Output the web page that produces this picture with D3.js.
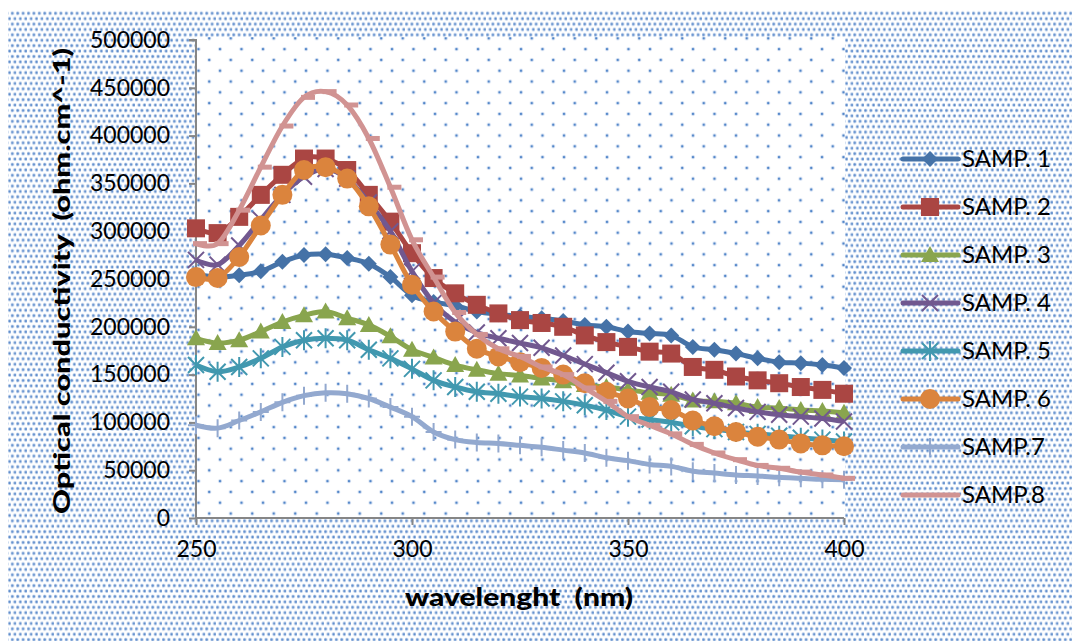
<!DOCTYPE html>
<html>
<head>
<meta charset="utf-8">
<script src="https://cdn.jsdelivr.net/npm/d3@7"></script>
<style>
  body { margin: 0; background: #fff; }
  svg { display: block; }
  text { font-family: Lato, "Noto Sans", sans-serif; white-space: pre; }
</style>
</head>
<body>
<div id="chart"></div>
<script>
// wavelength (nm), one reading every 5 nm
const wavelengths = d3.range(250, 401, 5);

// optical conductivity, one list per sample
const samp1 = [255000, 252000, 254000, 258000, 268000, 275000, 276000, 272000, 266000, 252000, 233000,
  226000, 222000, 216000, 213000, 211000, 209000, 206000, 202000, 200000, 195000,
  193000, 191000, 179000, 176000, 172000, 167000, 163000, 162000, 160000, 157000];
const samp2 = [303000, 298000, 315000, 338000, 359000, 376000, 376000, 364000, 338000, 310000, 277000,
  251000, 235000, 223000, 214000, 207000, 204000, 200000, 191000, 184000, 179000,
  174000, 172000, 158000, 155000, 148000, 144000, 141000, 137000, 134000, 130000];
const samp3 = [188000, 183000, 186000, 195000, 205000, 212000, 216000, 209000, 202000, 190000, 176000,
  168000, 160000, 155000, 151000, 149000, 146000, 143000, 139000, 137000, 134000,
  131000, 129000, 123000, 122000, 120000, 116000, 115000, 113000, 112000, 110000];
const samp4 = [270000, 265000, 285000, 312000, 338000, 357000, 365000, 355000, 330000, 300000, 258000,
  225000, 205000, 194000, 188000, 183000, 178000, 170000, 161000, 152000, 143000,
  137000, 132000, 124000, 120000, 115000, 111000, 108000, 106000, 104000, 101000];
const samp5 = [160000, 153000, 158000, 167000, 179000, 186000, 188000, 186000, 176000, 167000, 156000,
  144000, 137000, 132000, 130000, 127000, 125000, 122000, 118000, 113000, 106000,
  103000, 100000, 96000, 93000, 90000, 88000, 86000, 84000, 82000, 80000];
const samp6 = [252000, 251000, 273000, 306000, 338000, 364000, 367000, 355000, 326000, 286000, 244000,
  216000, 195000, 177000, 169000, 163000, 157000, 150000, 141000, 132000, 125000,
  116000, 113000, 102000, 96000, 90000, 85000, 82000, 78000, 76000, 75000];
const samp7 = [97000, 94000, 102000, 111000, 121000, 128000, 131000, 130000, 125000, 116000, 106000,
  90000, 82000, 79000, 78000, 76000, 74000, 71000, 68000, 63000, 60000,
  56000, 54000, 49000, 47000, 45000, 44000, 42500, 41500, 40500, 40000];
const samp8 = [287000, 287000, 322000, 367000, 410000, 440000, 446000, 432000, 397000, 346000, 291000,
  252000, 215000, 192000, 177000, 169000, 158000, 150000, 136000, 122000, 106000,
  97000, 88000, 77000, 68000, 61000, 55000, 52000, 48000, 45000, 41500];

const seriesNames = ["SAMP. 1", "SAMP. 2", "SAMP. 3", "SAMP. 4", "SAMP. 5", "SAMP. 6", "SAMP.7", "SAMP.8"];
const seriesValues = [samp1, samp2, samp3, samp4, samp5, samp6, samp7, samp8];
const xTicks = [250, 300, 350, 400];
const yTicks = d3.range(0, 500001, 50000);

// styles (colour + marker per series)
const colors = ["#4572A7", "#AA4643", "#89A54E", "#71588F", "#4198AF", "#DB843D", "#93A9CF", "#D19392"];
const markers = ["diamond", "square", "triangle", "cross", "star", "circle", "plus", "dash"];

const W = 1072, H = 641;
const plot = {left: 196, right: 844, top: 40, bottom: 518};

const svg = d3.select("#chart").append("svg")
  .attr("width", W)
  .attr("height", H);

// dotted pattern fills
const defs = svg.append("defs");
const outer = defs.append("pattern")
  .attr("id", "outerDots")
  .attr("patternUnits", "userSpaceOnUse")
  .attr("width", 5.4).attr("height", 10.8);
[[1.5, 2.5], [4.2, 7.9]].forEach(p => {
  outer.append("circle").attr("cx", p[0]).attr("cy", p[1]).attr("r", 2.0).attr("fill", "#c9d9ef");
  outer.append("circle").attr("cx", p[0]).attr("cy", p[1]).attr("r", 1.15).attr("fill", "#5f8dcc");
});
const inner = defs.append("pattern")
  .attr("id", "innerDots")
  .attr("patternUnits", "userSpaceOnUse")
  .attr("x", 0).attr("y", 1)
  .attr("width", 21.5).attr("height", 21.6);
[[5, 5], [15.75, 15.8]].forEach(p => {
  inner.append("circle").attr("cx", p[0]).attr("cy", p[1]).attr("r", 2.1).attr("fill", "#dbe5f4");
  inner.append("circle").attr("cx", p[0]).attr("cy", p[1]).attr("r", 1.2).attr("fill", "#4f84c8");
});

svg.append("rect")
  .attr("x", 8).attr("y", 10)
  .attr("width", W - 8).attr("height", H - 10)
  .attr("fill", "url(#outerDots)");

svg.append("rect")
  .attr("x", plot.left).attr("y", plot.top - 3)
  .attr("width", plot.right - plot.left + 1).attr("height", plot.bottom - plot.top + 3)
  .attr("fill", "#fff");
svg.append("rect")
  .attr("x", plot.left).attr("y", plot.top - 3)
  .attr("width", plot.right - plot.left + 1).attr("height", plot.bottom - plot.top + 3)
  .attr("fill", "url(#innerDots)");

// scales
const x = d3.scaleLinear().domain([250, 400]).range([plot.left, plot.right]);
const y = d3.scaleLinear().domain([0, 500000]).range([plot.bottom, plot.top]);

// axes
const yAxis = svg.append("g")
  .attr("transform", `translate(${plot.left},0)`)
  .call(d3.axisLeft(y).tickValues(yTicks).tickSize(7).tickPadding(19).tickFormat(d3.format("d")));
const xAxis = svg.append("g")
  .attr("transform", `translate(0,${plot.bottom})`)
  .call(d3.axisBottom(x).tickValues(xTicks).tickSize(7).tickPadding(16).tickFormat(d3.format("d")));

[yAxis, xAxis].forEach(a => {
  a.select(".domain").attr("stroke", "#868686").attr("stroke-width", 2);
  a.selectAll(".tick line").attr("stroke", "#868686").attr("stroke-width", 2);
  a.selectAll(".tick text")
    .attr("fill", "#000")
    .style("font-size", "23px")
    .style("font-family", "Lato, sans-serif");
});
yAxis.select(".domain").attr("d", `M-7,${plot.top}H0V${plot.bottom}`);
xAxis.select(".domain").attr("d", `M${plot.left},0H${plot.right}`);

// axis titles
svg.append("text")
  .attr("transform", `translate(70,${(plot.top + plot.bottom) / 2 + 2}) rotate(-90)`)
  .attr("text-anchor", "middle")
  .style("font-size", "23px")
  .style("font-weight", "900")
  .attr("textLength", 466)
  .attr("lengthAdjust", "spacingAndGlyphs")
  .text("Optical conductivity  (ohm.cm^-1)");

svg.append("text")
  .attr("x", 519).attr("y", 606)
  .attr("text-anchor", "middle")
  .style("font-size", "24px")
  .style("font-weight", "900")
  .attr("textLength", 228)
  .attr("lengthAdjust", "spacingAndGlyphs")
  .text("wavelenght  (nm)");

// marker drawing
function drawMarker(g, type, color) {
  switch (type) {
    case "diamond":
      g.append("path").attr("d", "M0,-8L8,0L0,8L-8,0Z").attr("fill", color);
      break;
    case "square":
      g.append("rect").attr("x", -9).attr("y", -9).attr("width", 18).attr("height", 18).attr("fill", color);
      break;
    case "triangle":
      g.append("path").attr("d", "M0,-9L9,7L-9,7Z").attr("fill", color);
      break;
    case "circle":
      g.append("circle").attr("r", 10).attr("fill", color);
      break;
    case "cross":
      g.append("path").attr("d", "M-8,-8L8,8M-8,8L8,-8")
        .attr("stroke", color).attr("stroke-width", 2).attr("fill", "none");
      break;
    case "star":
      g.append("path").attr("d", "M-8,-8L8,8M-8,8L8,-8M0,-10V10")
        .attr("stroke", color).attr("stroke-width", 2).attr("fill", "none");
      break;
    case "plus":
      g.append("path").attr("d", "M0,-9V9M-8,0H8")
        .attr("stroke", color).attr("stroke-width", 2).attr("fill", "none");
      break;
    case "dash":
      g.append("rect").attr("x", -3).attr("y", -2.5).attr("width", 14).attr("height", 5).attr("fill", color);
      break;
  }
}

const line = d3.line()
  .x(d => x(d[0]))
  .y(d => y(d[1]))
  .curve(d3.curveCatmullRom.alpha(0));

const series = seriesNames.map((name, i) => ({
  name: name,
  color: colors[i],
  marker: markers[i],
  points: wavelengths.map((w, j) => [w, seriesValues[i][j]])
}));

series.forEach(s => {
  const g = svg.append("g");
  g.append("path")
    .attr("d", line(s.points))
    .attr("fill", "none")
    .attr("stroke", s.color)
    .attr("stroke-width", 5)
    .attr("stroke-linejoin", "round");
  g.selectAll("g.pt")
    .data(s.points)
    .enter().append("g")
    .attr("class", "pt")
    .attr("transform", d => `translate(${x(d[0])},${y(d[1])})`)
    .each(function() { drawMarker(d3.select(this), s.marker, s.color); });
});

// legend
const legend = svg.append("g").attr("transform", "translate(903,159)");
series.forEach((s, i) => {
  const row = legend.append("g").attr("transform", `translate(0,${i * 48})`);
  row.append("line")
    .attr("x1", 0).attr("x2", 55)
    .attr("stroke", s.color).attr("stroke-width", 5).attr("stroke-linecap", "round");
  const m = row.append("g").attr("transform", "translate(27,0)");
  if (s.marker !== "dash") drawMarker(m, s.marker, s.color);
  row.append("text")
    .attr("x", 59).attr("y", 8)
    .style("font-size", "24px")
    .text(s.name);
});
</script>
</body>
</html>
